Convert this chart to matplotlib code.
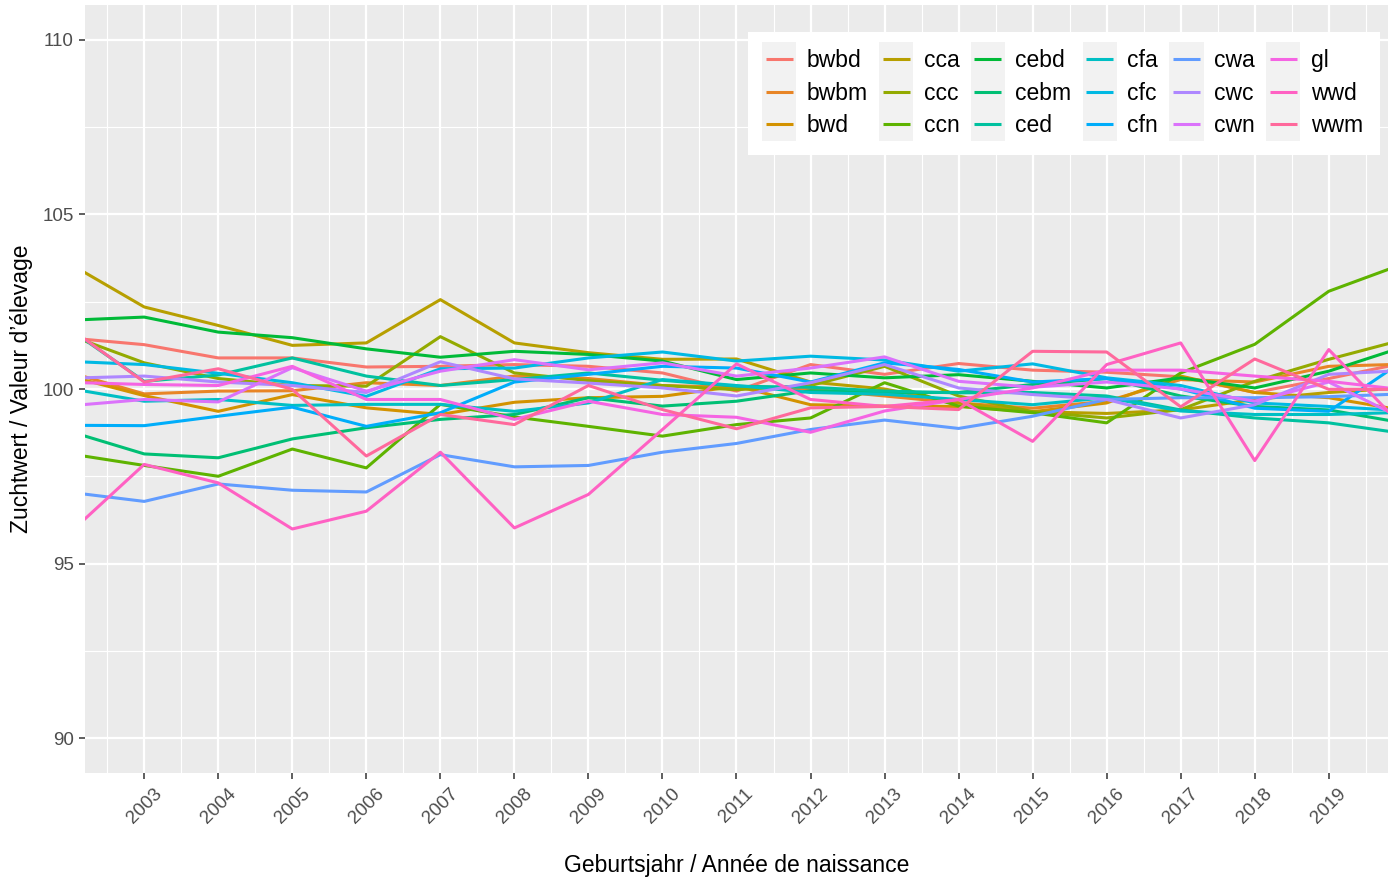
import numpy as np
import matplotlib
matplotlib.use("Agg")
import matplotlib.pyplot as plt
from matplotlib.patches import Rectangle
from matplotlib.legend_handler import HandlerLine2D

plt.rcParams['font.family'] = ['Liberation Sans', 'DejaVu Sans']

years = list(range(2002, 2021))

bwbd = [101.46, 101.27, 100.89, 100.89, 100.63, 100.65, 100.70, 100.65, 100.46, 99.94,
        100.70, 100.42, 100.73, 100.54, 100.48, 100.35, 99.90, 100.30, 100.74]
bwbm = [100.47, 99.86, 99.94, 99.95, 100.18, 100.10, 100.37, 100.30, 100.10, 100.05,
        100.00, 99.80, 99.60, 99.45, 99.65, 100.27, 100.20, 100.65, 100.71]
bwd = [100.36, 99.81, 99.36, 99.84, 99.46, 99.27, 99.62, 99.75, 99.79, 100.08,
       99.55, 99.51, 99.50, 99.35, 99.60, 100.37, 99.90, 99.75, 99.39]
cca = [103.58, 102.35, 101.82, 101.25, 101.32, 102.56, 101.32, 101.04, 100.85, 100.86,
       100.20, 100.00, 99.60, 99.35, 99.30, 99.40, 99.70, 99.90, 100.03]
ccc = [101.53, 100.75, 100.30, 100.10, 100.08, 101.50, 100.46, 100.24, 100.10, 99.98,
       100.10, 100.65, 99.80, 99.35, 99.17, 99.41, 100.22, 100.85, 101.41]
ccn = [98.14, 97.81, 97.50, 98.28, 97.74, 99.56, 99.20, 98.93, 98.65, 98.98,
       99.17, 100.18, 99.51, 99.32, 99.03, 100.46, 101.28, 102.80, 103.58]
cebd = [101.97, 102.06, 101.63, 101.47, 101.15, 100.91, 101.08, 100.99, 100.80, 100.27,
        100.46, 100.32, 100.41, 100.22, 100.03, 100.32, 100.03, 100.51, 101.20]
cebm = [98.78, 98.14, 98.03, 98.57, 98.89, 99.13, 99.27, 99.75, 99.51, 99.65,
        99.95, 99.90, 99.90, 100.13, 100.30, 99.80, 99.50, 99.40, 99.03]
ced = [101.70, 100.22, 100.40, 100.89, 100.37, 100.10, 100.27, 100.46, 100.25, 100.08,
       100.05, 99.94, 99.89, 99.90, 99.80, 99.40, 99.17, 99.03, 98.73]
cfa = [100.01, 99.65, 99.70, 99.53, 99.56, 99.56, 99.36, 99.60, 100.27, 100.10,
       99.90, 99.85, 99.70, 99.55, 99.75, 99.37, 99.27, 99.27, 99.33]
cfc = [100.79, 100.70, 100.45, 100.18, 99.79, 100.58, 100.60, 100.89, 101.06, 100.80,
       100.94, 100.83, 100.51, 100.72, 100.32, 100.10, 99.60, 99.50, 99.38]
cfn = [98.96, 98.95, 99.22, 99.48, 98.93, 99.32, 100.20, 100.42, 100.65, 100.60,
       100.20, 100.75, 100.56, 100.20, 100.30, 100.00, 99.45, 99.36, 100.80]
cwa = [97.04, 96.78, 97.28, 97.10, 97.05, 98.12, 97.77, 97.81, 98.19, 98.44,
       98.84, 99.11, 98.87, 99.22, 99.70, 99.75, 99.75, 99.78, 99.86]
cwc = [100.31, 100.37, 100.20, 100.10, 99.90, 100.78, 100.29, 100.17, 100.03, 99.80,
       100.18, 100.70, 100.03, 99.84, 99.70, 99.17, 99.55, 100.42, 100.53]
cwn = [99.52, 99.70, 99.63, 100.61, 99.94, 100.51, 100.84, 100.55, 100.75, 100.37,
       100.60, 100.92, 100.22, 100.05, 100.20, 100.00, 99.65, 100.20, 99.15]
gl = [100.19, 100.13, 100.10, 100.65, 99.70, 99.70, 99.13, 99.65, 99.27, 99.19,
      98.76, 99.37, 99.70, 100.03, 100.54, 100.54, 100.37, 100.22, 99.98]
wwd = [95.89, 97.84, 97.31, 95.99, 96.50, 98.19, 96.02, 96.98, 98.84, 100.72,
       99.70, 99.50, 99.70, 98.50, 100.70, 101.32, 97.95, 101.13, 98.92]
wwm = [101.73, 100.20, 100.58, 99.99, 98.08, 99.27, 98.98, 100.10, 99.41, 98.86,
       99.46, 99.50, 99.41, 101.08, 101.06, 99.49, 100.86, 99.99, 99.99]

names = ["bwbd", "bwbm", "bwd", "cca", "ccc", "ccn", "cebd", "cebm", "ced",
         "cfa", "cfc", "cfn", "cwa", "cwc", "cwn", "gl", "wwd", "wwm"]
series = [bwbd, bwbm, bwd, cca, ccc, ccn, cebd, cebm, ced,
          cfa, cfc, cfn, cwa, cwc, cwn, gl, wwd, wwm]

x_ticks = list(range(2003, 2020))
y_ticks = [90, 95, 100, 105, 110]


def hcl_hex(h, c=100.0, l=65.0):
    # ggplot2 hue_pal: polar LUV -> sRGB (D65)
    xn, yn, zn = 95.047, 100.0, 108.883
    hr = np.deg2rad(h)
    U, V = c * np.cos(hr), c * np.sin(hr)
    Y = yn * ((l + 16) / 116) ** 3
    d = xn + 15 * yn + 3 * zn
    u = U / (13 * l) + 4 * xn / d
    v = V / (13 * l) + 9 * yn / d
    X = 9 * Y * u / (4 * v)
    Z = -X / 3 - 5 * Y + 3 * Y / v
    M = np.array([[3.240479, -1.537150, -0.498535],
                  [-0.969256, 1.875992, 0.041556],
                  [0.055648, -0.204043, 1.057311]])
    rgb = M @ np.array([X, Y, Z]) / 100
    rgb = np.where(rgb <= 0.0031308, 12.92 * rgb, 1.055 * np.abs(rgb) ** (1 / 2.4) - 0.055)
    return tuple(np.clip(rgb, 0, 1))


class KeyHandler(HandlerLine2D):
    # grey key box behind each legend line, like ggplot's legend.key
    def create_artists(self, legend, orig_handle, xdescent, ydescent,
                       width, height, fontsize, trans):
        arts = super().create_artists(legend, orig_handle, xdescent, ydescent,
                                      width, height, fontsize, trans)
        row = 24.2
        box = Rectangle((-xdescent - 2.6, -ydescent + height / 2 - row / 2),
                        width + 5.2, row, fc='#F2F2F2', ec='none', transform=trans)
        return [box] + arts


colors = [hcl_hex(h) for h in np.linspace(15, 355, len(names))]

fig = plt.figure(figsize=(13.94, 8.83), dpi=100)
ax = fig.add_axes([85 / 1394, 1 - 773 / 883, (1388 - 85) / 1394, (773 - 5) / 883])
ax.set_facecolor('#EBEBEB')

for name, vals, col in zip(names, series, colors):
    ax.plot(years, vals, color=col, lw=2.2, label=name, solid_capstyle='butt')

ax.set_xlim(2002.2, 2019.8)
ax.set_ylim(89.0, 111.0)
ax.set_xticks(x_ticks)
ax.set_xticks([t - 0.5 for t in x_ticks] + [2019.5], minor=True)
ax.set_yticks(y_ticks)
ax.set_yticks([92.5, 97.5, 102.5, 107.5], minor=True)
ax.grid(which='major', color='white', lw=1.6)
ax.grid(which='minor', color='white', lw=0.8)
ax.set_axisbelow(True)
for s in ax.spines.values():
    s.set_visible(False)

ax.tick_params(which='major', length=4, width=1.1, color='#333333',
               labelcolor='#4D4D4D', labelsize=13.5)
ax.tick_params(which='minor', length=0)
ax.tick_params(axis='y', pad=4)
ax.tick_params(axis='x', pad=5)
plt.setp(ax.get_xticklabels(), rotation=45, ha='center', va='top')

ax.set_xlabel("Geburtsjahr / Année de naissance", fontsize=16.5, labelpad=19)
ax.set_ylabel("Zuchtwert / Valeur d’élevage", fontsize=16.5, labelpad=7)

leg = ax.legend(ncol=6, loc='upper right', bbox_to_anchor=(0.99386, 0.96484),
                fontsize=16.5, frameon=True, fancybox=False, framealpha=1,
                facecolor='white', edgecolor='white', handlelength=1.18,
                handletextpad=0.61, columnspacing=0.65, labelspacing=0.42,
                borderpad=0.75, borderaxespad=0,
                handler_map={plt.Line2D: KeyHandler()})
leg.get_frame().set_linewidth(0)

fig.savefig('out.png', dpi=100)
